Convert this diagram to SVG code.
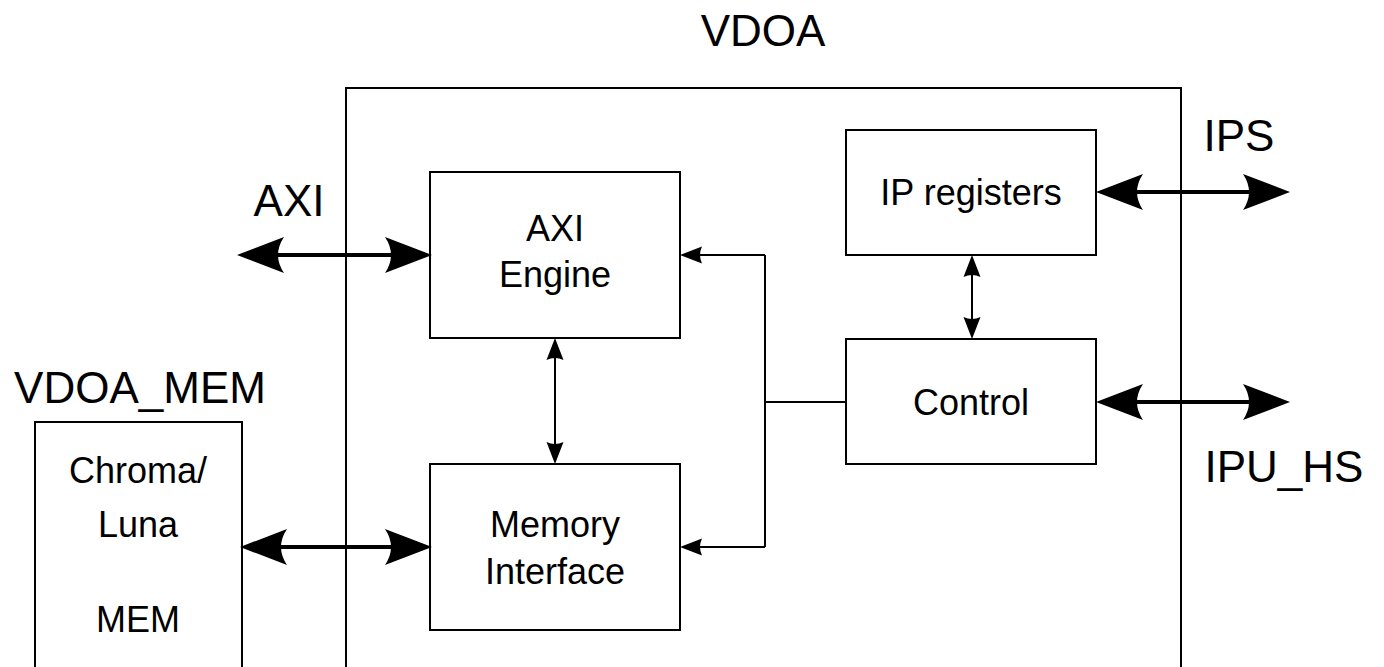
<svg xmlns="http://www.w3.org/2000/svg" width="1384" height="667" viewBox="0 0 1384 667">
<style>
.box{fill:#fff;stroke:#000;stroke-width:2}
.t{font-family:"Liberation Sans",Arial,sans-serif;fill:#000;text-anchor:middle}
.lbl{font-size:44px}
.in{font-size:36px}
.thick{stroke:#000;stroke-width:4;fill:none}
.thin{stroke:#000;stroke-width:2;fill:none}
</style>
<defs>
<marker id="big" markerUnits="userSpaceOnUse" markerWidth="48" markerHeight="36" refX="27" refY="18" orient="auto-start-reverse" overflow="visible">
<path d="M0,0 L47,18 L0,36 Q12,18 0,0 Z" fill="#000"/>
</marker>
<marker id="small" markerUnits="userSpaceOnUse" markerWidth="23" markerHeight="17" refX="12" refY="8.5" orient="auto-start-reverse" overflow="visible">
<path d="M0,0 L22,8.5 L0,17 Q4,8.5 0,0 Z" fill="#000"/>
</marker>
</defs>
<rect width="1384" height="667" fill="#fff"/>
<g id="vdoa">
<path class="thin" d="M346,670 V88 H1181 V670"/>
<text class="t lbl" x="763" y="46">VDOA</text>
</g>
<g id="vdoa_mem">
<path class="thin" d="M35,670 V422 H242 V670"/>
<text class="t lbl" x="140" y="403">VDOA_MEM</text>
<text class="t in" x="138" y="483">Chroma/</text>
<text class="t in" x="138" y="537">Luna</text>
<text class="t in" x="138" y="632">MEM</text>
</g>
<g id="axi_engine">
<rect class="box" x="430" y="172" width="250" height="166"/>
<text class="t in" x="555" y="241">AXI</text>
<text class="t in" x="555" y="287">Engine</text>
</g>
<g id="memory_interface">
<rect class="box" x="430" y="464" width="250" height="166"/>
<text class="t in" x="555" y="537">Memory</text>
<text class="t in" x="555" y="584">Interface</text>
</g>
<g id="ip_registers">
<rect class="box" x="846" y="130" width="250" height="125"/>
<text class="t in" x="971" y="205">IP registers</text>
</g>
<g id="control">
<rect class="box" x="846" y="339" width="250" height="125"/>
<text class="t in" x="971" y="415">Control</text>
</g>
<g id="labels">
<text class="t lbl" x="289" y="216">AXI</text>
<text class="t lbl" x="1239" y="151">IPS</text>
<text class="t lbl" x="1284" y="482">IPU_HS</text>
</g>
<g id="connectors">
<line class="thick" x1="257" y1="255" x2="412" y2="255" marker-start="url(#big)" marker-end="url(#big)"/>
<line class="thick" x1="260" y1="547" x2="412" y2="547" marker-start="url(#big)" marker-end="url(#big)"/>
<line class="thick" x1="1116" y1="192" x2="1270" y2="192" marker-start="url(#big)" marker-end="url(#big)"/>
<line class="thick" x1="1116" y1="402" x2="1270" y2="402" marker-start="url(#big)" marker-end="url(#big)"/>
<line class="thin" x1="555" y1="348" x2="555" y2="454" marker-start="url(#small)" marker-end="url(#small)"/>
<line class="thin" x1="972" y1="265" x2="972" y2="329" marker-start="url(#small)" marker-end="url(#small)"/>
<path class="thin" d="M846,402 H765 M765,255 V547"/>
<line class="thin" x1="765" y1="255" x2="690" y2="255" marker-end="url(#small)"/>
<line class="thin" x1="765" y1="547" x2="690" y2="547" marker-end="url(#small)"/>
</g>
</svg>
